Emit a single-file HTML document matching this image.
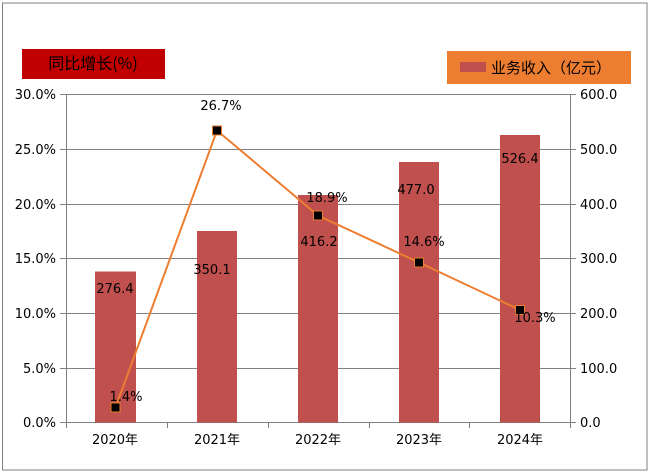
<!DOCTYPE html>
<html><head><meta charset="utf-8"><style>
html,body{margin:0;padding:0;background:#fff;}
svg{display:block;font-family:"DejaVu Sans","Noto Sans CJK SC",sans-serif;}
</style></head><body>
<svg width="649" height="473" viewBox="0 0 649 473" xmlns="http://www.w3.org/2000/svg">
<rect x="2.5" y="3" width="644.5" height="467" fill="#fff" stroke="#808080" stroke-width="1"/>
<rect x="22" y="49" width="143" height="30" fill="#c00000"/>
<text x="93" y="69" font-size="16" text-anchor="middle" fill="#000" font-family="'WenQuanYi Zen Hei','Noto Sans CJK SC',sans-serif">同比增长(%)</text>
<rect x="447" y="51" width="184" height="33" fill="#ed7d31"/>
<rect x="460" y="62" width="26" height="10" fill="#c0504d"/>
<text x="491" y="73" font-size="15" fill="#000" font-family="'WenQuanYi Zen Hei','Noto Sans CJK SC',sans-serif">业务收入（亿元）</text>
<g stroke="#808080" stroke-width="1">
<line x1="60" y1="94.5" x2="576" y2="94.5"/>
<line x1="60" y1="149.5" x2="576" y2="149.5"/>
<line x1="60" y1="204.5" x2="576" y2="204.5"/>
<line x1="60" y1="258.5" x2="576" y2="258.5"/>
<line x1="60" y1="313.5" x2="576" y2="313.5"/>
<line x1="60" y1="368.5" x2="576" y2="368.5"/>
<line x1="60" y1="422.5" x2="576" y2="422.5"/>
<line x1="66.5" y1="94" x2="66.5" y2="428"/>
<line x1="570.5" y1="94" x2="570.5" y2="428"/>
<line x1="167.5" y1="422" x2="167.5" y2="428"/>
<line x1="268.5" y1="422" x2="268.5" y2="428"/>
<line x1="369.5" y1="422" x2="369.5" y2="428"/>
<line x1="469.5" y1="422" x2="469.5" y2="428"/>
</g>
<g fill="#c0504d">
<rect x="95" y="271.5" width="41" height="151"/>
<rect x="197" y="231" width="40" height="191.5"/>
<rect x="298" y="195" width="40" height="227.5"/>
<rect x="399" y="162" width="40" height="260.5"/>
<rect x="500" y="135" width="40" height="287.5"/>
</g>
<polyline points="115.5,407.5 217,130.5 318,215.5 419,262.5 520,310" fill="none" stroke="#ed7d31" stroke-width="2"/>
<g fill="#000" stroke="#ed7d31" stroke-width="1">
<rect x="111" y="403" width="9" height="9"/>
<rect x="212.5" y="126" width="9" height="9"/>
<rect x="313.5" y="211" width="9" height="9"/>
<rect x="414.5" y="258" width="9" height="9"/>
<rect x="515.5" y="305.5" width="9" height="9"/>
</g>
<g font-size="13" fill="#000" text-anchor="middle">
<text x="221" y="110">26.7%</text>
<text x="115" y="293">276.4</text>
<text x="212" y="274">350.1</text>
<text x="319" y="246">416.2</text>
<text x="327" y="202">18.9%</text>
<text x="416" y="194">477.0</text>
<text x="424" y="246">14.6%</text>
<text x="520" y="163">526.4</text>
<text x="535" y="322">10.3%</text>
<text x="126" y="401">1.4%</text>
</g>
<g font-size="13" fill="#000" text-anchor="end">
<text x="56" y="99">30.0%</text>
<text x="56" y="154">25.0%</text>
<text x="56" y="209">20.0%</text>
<text x="56" y="263">15.0%</text>
<text x="56" y="318">10.0%</text>
<text x="56" y="373">5.0%</text>
<text x="56" y="427">0.0%</text>
</g>
<g font-size="13" fill="#000">
<text x="580" y="99">600.0</text>
<text x="580" y="154">500.0</text>
<text x="580" y="209">400.0</text>
<text x="580" y="263">300.0</text>
<text x="580" y="318">200.0</text>
<text x="580" y="373">100.0</text>
<text x="580" y="427">0.0</text>
</g>
<g font-size="13" fill="#000" text-anchor="middle">
<text x="115" y="444">2020年</text>
<text x="217" y="444">2021年</text>
<text x="318" y="444">2022年</text>
<text x="419" y="444">2023年</text>
<text x="520" y="444">2024年</text>
</g>
</svg>
</body></html>
